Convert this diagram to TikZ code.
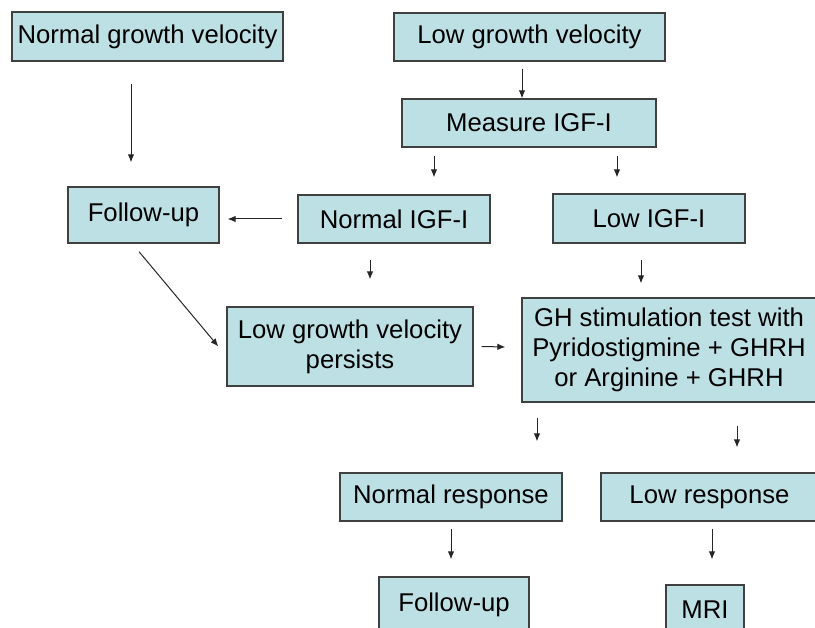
\documentclass[tikz,border=0pt]{standalone}
\usepackage{fontspec}
\setmainfont{Liberation Sans}
\usetikzlibrary{arrows.meta}
\definecolor{boxfill}{RGB}{188,224,228}
\definecolor{boxline}{RGB}{64,64,64}
\begin{document}
\begin{tikzpicture}
  [x=1pt, y=-1pt,
   every node/.style={fill=boxfill, draw=boxline, line width=1.3pt, inner sep=0pt,
     align=center, font=\fontsize{25.7}{30}\selectfont},
   arrow/.style={-{Latex[length=8pt,width=6.5pt]}, line width=1pt, draw=black!85}]
  \useasboundingbox (0,0) rectangle (815,628);
  % top row
  \node (ngv) [minimum width=271pt, minimum height=49pt] at (147.5,36.5) {Normal growth velocity};
  \node (lgv) [minimum width=271pt, minimum height=48pt] at (529.5,37) {Low growth velocity};
  \node (meas) [minimum width=254pt, minimum height=48pt] at (529,123) {Measure IGF-I};
  % IGF-I results
  \node (fup1) [minimum width=151pt, minimum height=56pt] at (143.5,215) {Follow-up};
  \node (nigf) [minimum width=192pt, minimum height=48pt] at (394,219) {Normal IGF-I};
  \node (ligf) [minimum width=192pt, minimum height=49pt] at (649,218.5) {Low IGF-I};
  % tests
  \node (pers) [minimum width=246pt, minimum height=79pt] at (350,346.5) {Low growth velocity\\persists};
  \node (ghst) [minimum width=294pt, minimum height=104pt] at (669,350)
    {GH stimulation test with\\Pyridostigmine + GHRH\\or Arginine + GHRH};
  % responses
  \node (nres) [minimum width=222pt, minimum height=48pt] at (451,497) {Normal response};
  \node (lres) [minimum width=217pt, minimum height=48pt] at (709.5,497) {Low response};
  \node (fup2) [minimum width=150pt, minimum height=56pt] at (454,605) {Follow-up};
  \node (mri) [minimum width=78pt, minimum height=50pt] at (705,610) {MRI};

  \draw[arrow] ([xshift=-16.5pt,yshift=-22pt]ngv.south) -- ([xshift=-12.5pt,yshift=24pt]fup1.north);
  \draw[arrow] ([xshift=-7.5pt,yshift=-7pt]lgv.south) -- ([xshift=-7pt]meas.north);
  \draw[arrow] ([xshift=-95pt,yshift=-8pt]meas.south) -- ([xshift=40pt,yshift=17pt]nigf.north);
  \draw[arrow] ([xshift=88pt,yshift=-8pt]meas.south) -- ([xshift=-32pt,yshift=16pt]ligf.north);
  \draw[arrow] ([xshift=-15pt]nigf.west) -- ([xshift=8pt,yshift=-4pt]fup1.east);
  \draw[arrow] ([xshift=-24pt,yshift=-16pt]nigf.south) -- ([xshift=20pt,yshift=27pt]pers.north);
  \draw[arrow] ([xshift=-8pt,yshift=-16pt]ligf.south) -- ([xshift=-28pt,yshift=14pt]ghst.north);
  \draw[arrow] ([xshift=-4.5pt,yshift=-8pt]fup1.south) -- ([xshift=-8pt]pers.west);
  \draw[arrow] ([xshift=8pt]pers.east) -- ([xshift=-16pt,yshift=3pt]ghst.west);
  \draw[arrow] ([xshift=-132pt,yshift=-15pt]ghst.south) -- ([xshift=86pt,yshift=31pt]nres.north);
  \draw[arrow] ([xshift=68pt,yshift=-23pt]ghst.south) -- ([xshift=27.5pt,yshift=25pt]lres.north);
  \draw[arrow] ([yshift=-7pt]nres.south) -- ([xshift=-3pt,yshift=17pt]fup2.north);
  \draw[arrow] ([xshift=2.5pt,yshift=-7pt]lres.south) -- ([xshift=7pt,yshift=25pt]mri.north);
\end{tikzpicture}
\end{document}
